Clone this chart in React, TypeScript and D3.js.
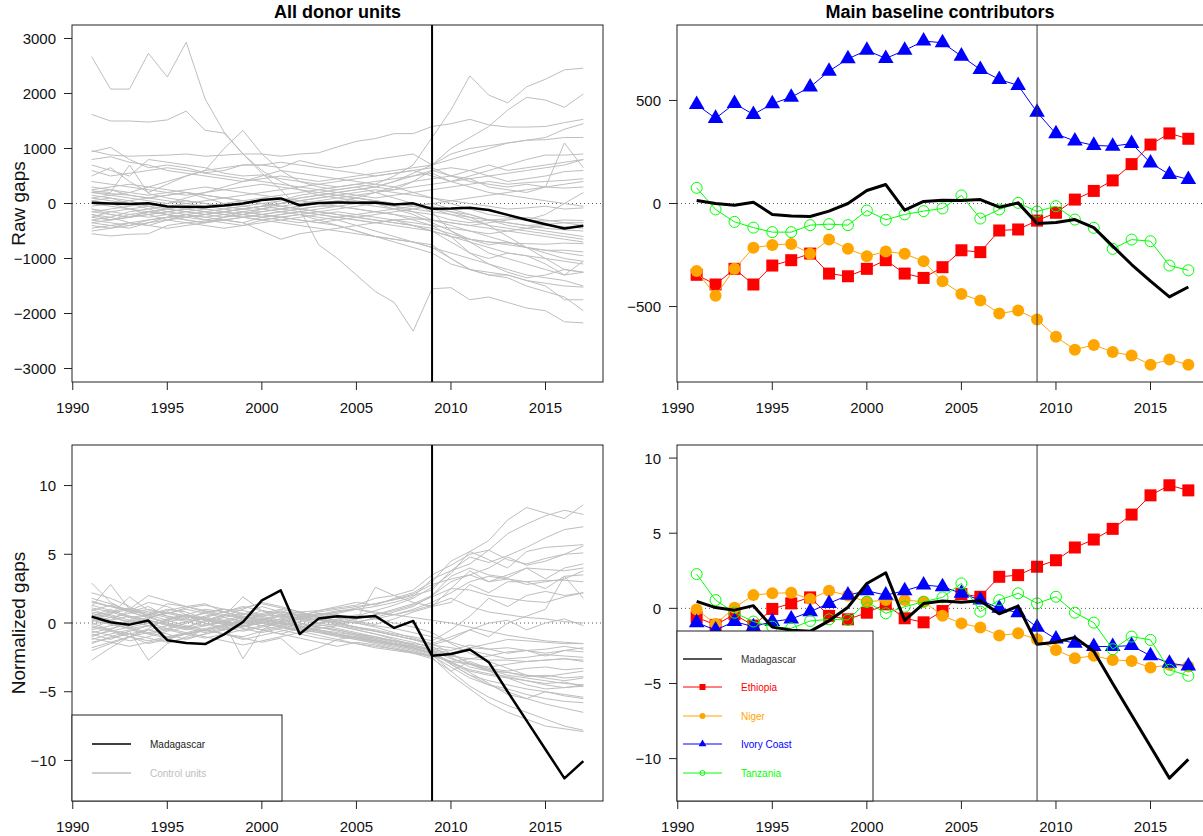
import React from "react"
import * as d3 from "d3"

// years of the study window, intervention in 2009
const years = [1991, 1992, 1993, 1994, 1995, 1996, 1997, 1998, 1999, 2000, 2001, 2002, 2003, 2004, 2005, 2006, 2007, 2008, 2009, 2010, 2011, 2012, 2013, 2014, 2015, 2016, 2017]
const treatYear = 2009

// raw gaps, main contributors
const madRaw = [15, 0, -8, 6, -53, -61, -63, -37, 0, 63, 92, -32, 10, 16, 15, 19, -18, 3, -97, -92, -78, -117, -207, -296, -377, -453, -405]
const ethRaw = [-346, -393, -317, -393, -301, -275, -243, -340, -353, -317, -275, -340, -361, -309, -227, -236, -131, -126, -83, -45, 19, 61, 112, 191, 286, 340, 314]
const nigRaw = [-328, -447, -317, -215, -201, -196, -244, -175, -220, -256, -233, -244, -280, -377, -439, -471, -534, -519, -563, -647, -709, -686, -720, -738, -782, -757, -782]
const ivcRaw = [480, 413, 485, 432, 484, 516, 565, 642, 702, 743, 704, 743, 788, 780, 715, 650, 602, 573, 443, 338, 303, 282, 278, 291, 197, 141, 117]
const tzaRaw = [76, -29, -89, -117, -139, -139, -105, -100, -105, -34, -79, -53, -37, -24, 39, -73, -29, 3, -39, -13, -78, -118, -220, -175, -183, -301, -324]

// normalized gaps, main contributors
const madNorm = [0.46, 0.05, -0.12, 0.18, -1.25, -1.45, -1.53, -0.83, 0.07, 1.65, 2.37, -0.8, 0.32, 0.49, 0.4, 0.51, -0.36, 0.15, -2.39, -2.25, -1.93, -2.85, -5.0, -7.1, -9.2, -11.3, -10.05]
const ethNorm = [-0.6, -1.1, -0.4, -1.15, -0.04, 0.33, 0.73, -0.5, -0.73, -0.29, 0.27, -0.66, -0.93, -0.18, 0.95, 0.77, 2.1, 2.21, 2.77, 3.2, 4.05, 4.58, 5.29, 6.24, 7.52, 8.19, 7.85]
const nigNorm = [-0.07, -1.04, 0.04, 0.88, 1.0, 1.04, 0.62, 1.17, 0.85, 0.44, 0.55, 0.55, 0.44, -0.49, -1.0, -1.28, -1.81, -1.66, -2.06, -2.77, -3.32, -3.16, -3.43, -3.5, -3.94, -3.76, -3.87]
const ivcNorm = [-0.95, -1.44, -0.88, -1.22, -0.88, -0.71, -0.22, 0.33, 0.88, 1.17, 0.88, 1.17, 1.55, 1.44, 1.0, 0.55, 0, -0.29, -1.26, -2.04, -2.32, -2.54, -2.54, -2.48, -3.16, -3.65, -3.83]
const tzaNorm = [2.28, 0.55, -0.29, -0.88, -1.22, -1.33, -0.84, -0.73, -0.77, 0.44, -0.33, 0.11, 0.44, 0.73, 1.66, -0.22, 0.55, 1.0, 0.33, 0.77, -0.29, -0.95, -2.72, -1.88, -2.1, -4.09, -4.49]

// raw gaps, every donor unit
const rawControls = [
  [2670, 2080, 2080, 2730, 2300, 2930, 1900, 1300, 900, 550, 250, -100, -750, -1000, -1300, -1600, -1800, -2320, -1550, -1530, -1750, -1700, -1800, -1900, -1950, -2150, -2170],
  [1620, 1500, 1500, 1480, 1520, 1680, 1330, 1280, 900, 600, 400, 250, 150, 100, 50, 0, -50, -150, -300, -350, -400, -350, -300, -250, -300, -350, -400],
  [960, 880, 860, 870, 880, 900, 860, 880, 900, 900, 860, 900, 920, 1030, 1130, 1180, 1270, 1270, 1400, 1450, 1530, 1430, 1390, 1390, 1400, 1470, 1530],
  [100, 150, 200, 300, 400, 500, 600, 1000, 1330, 900, 600, 400, 300, 250, 300, 350, 500, 700, 1200, 1700, 2320, 1970, 1830, 2120, 2260, 2430, 2460],
  [940, 1020, 800, 650, 700, 650, 560, 600, 700, 700, 650, 780, 700, 650, 700, 800, 850, 900, 700, 1000, 1200, 1400, 1700, 1930, 1880, 1750, 1990],
  [800, 850, 750, 700, 600, 550, 500, 450, 400, 450, 500, 450, 400, 450, 500, 550, 600, 650, 700, 800, 900, 1000, 1100, 1150, 1200, 1350, 1450],
  [700, 600, 500, 800, 750, 700, 650, 550, 500, 520, 450, 400, 350, 300, 350, 300, 250, 400, 600, 500, 450, 300, 250, 200, 300, 1100, 650],
  [500, 650, 400, 200, 350, 500, 600, 650, 700, 700, 750, 700, 650, 600, 550, 500, 550, 600, 500, 400, 500, 600, 700, 800, 880, 880, 900],
  [200, 150, 100, 50, 0, 100, 200, 300, 400, 500, 600, 550, 500, 450, 400, 350, 300, 200, 100, 0, -100, -200, -250, -300, -200, 0, 200],
  [230, 200, 700, 180, 100, 50, 0, -50, -100, -50, 50, 150, 200, 250, 300, 200, 100, 0, -150, -500, -700, -900, -1000, -1100, -1200, -1300, -1250],
  [-100, -200, -250, -150, -100, -150, -200, -250, -200, -100, 0, 100, 150, 200, 250, 300, 400, 550, 700, 900, 1000, 1050, 1100, 1150, 1160, 1200, 1200],
  [-300, -350, -400, -300, -250, -200, -150, -100, -50, 0, 50, 100, 150, 200, 250, 300, 400, 500, 600, 650, 600, 500, 400, 450, 500, 580, 600],
  [-200, -250, -150, -100, -200, -300, -350, -300, -250, -200, -150, -100, -50, 0, 100, 200, 300, 400, 450, 500, 400, 350, 300, 350, 300, 280, 300],
  [-550, -590, -560, -550, -400, -350, -320, -300, -350, -500, -650, -550, -500, -450, -400, -350, -300, -280, -300, -350, -400, -450, -500, -550, -600, -650, -700],
  [-400, -450, -350, -300, -250, -200, -300, -350, -400, -300, -250, -200, -250, -300, -400, -500, -600, -700, -800, -1000, -1200, -1300, -1300, -1400, -1450, -1500, -1520],
  [-350, -300, -250, -200, -150, -200, -250, -200, -150, -100, -150, -200, -300, -400, -500, -600, -700, -800, -900, -1100, -1200, -1300, -1350, -1500, -1600, -1700, -1950],
  [200, 180, 150, 100, 50, 0, -50, -100, -150, -200, -250, -300, -350, -400, -500, -600, -650, -700, -750, -1000, -1200, -1250, -1300, -1400, -1500, -1750, -1750],
  [-250, -150, -100, -200, -300, -250, -200, -150, -100, -50, -100, -150, -200, -250, -300, -350, -400, -450, -500, -600, -650, -700, -750, -800, -850, -850, -880],
  [100, 50, 0, -50, -100, -150, -200, -150, -100, -50, 0, 50, 100, 150, 200, 250, 200, 150, 100, 50, 0, -50, -100, -80, -50, -100, -80],
  [-150, -200, -250, -200, -150, -100, -150, -200, -250, -200, -150, -100, -50, -50, 0, 0, -50, -100, -150, -200, -250, -300, -350, -400, -380, -350, -350],
  [50, 0, -100, -50, 0, 50, 0, -50, -100, -150, -100, -50, 0, 50, 100, 50, 0, -50, -100, -150, -200, -300, -400, -450, -500, -550, -600],
  [-300, -250, -350, -400, -300, -200, -250, -300, -350, -250, -200, -150, -200, -250, -300, -350, -300, -400, -500, -700, -900, -1000, -900, -950, -1100, -1300, -1050],
  [300, 250, 200, 150, 200, 250, 300, 250, 200, 150, 100, 50, 0, -50, -100, -150, -200, -300, -400, -600, -900, -1100, -1250, -1350, -1300, -1200, -1250],
  [150, 100, 50, 100, 150, 200, 100, 0, -50, -100, -50, 0, 50, 100, 150, 200, 250, 300, 350, 400, 450, 500, 550, 600, 650, 700, 800],
  [-200, -300, -250, -150, -100, -50, -100, -150, -200, -250, -200, -150, -100, -50, -100, -150, -200, -250, -300, -400, -500, -600, -700, -800, -900, -1000, -1050],
  [0, -50, -100, -150, -200, -250, -200, -150, -100, -50, 0, 50, 100, 150, 100, 50, 0, -50, 0, 50, 100, 150, 200, 250, 300, 350, 400],
  [-450, -400, -350, -400, -450, -400, -350, -300, -250, -300, -350, -400, -450, -500, -550, -600, -650, -700, -800, -900, -1000, -1100, -1200, -1300, -1350, -1400, -1500],
  [600, 500, 550, 600, 650, 600, 550, 500, 450, 400, 350, 300, 350, 400, 450, 500, 550, 600, 650, 500, 600, 700, 600, 650, 700, 750, 800],
  [-100, -150, -200, -250, -200, -150, -100, -150, -200, -250, -300, -350, -300, -250, -200, -150, -100, -50, 0, -100, -200, -300, -350, -400, -450, -480, -500],
  [250, 300, 350, 300, 250, 200, 150, 100, 50, 0, -50, -100, -150, -200, -250, -300, -350, -400, -500, -600, -700, -800, -900, -950, -1000, -1050, -1100],
  [-500, -450, -400, -350, -300, -350, -400, -450, -400, -350, -300, -250, -200, -150, -200, -250, -300, -350, -400, -450, -500, -550, -500, -450, -400, -420, -450],
  [200, 250, 150, 100, 150, 200, 150, 100, 50, 100, 150, 200, 250, 300, 350, 400, 450, 500, 550, 400, 300, 200, 150, 100, 50, 0, -50],
  [-150, -100, -50, 0, -50, -100, -150, -200, -250, -300, -250, -200, -150, -100, -50, 0, -100, -200, -350, -500, -650, -750, -700, -800, -850, -900, -950],
  [-250, -300, -200, -150, -200, -250, -300, -250, -200, -150, -100, -50, 0, 50, 0, -50, -100, -150, -200, -300, -350, -300, -280, -300, -320, -300, -310],
  [50, 100, 0, -100, -50, 0, 50, 100, 150, 200, 250, 300, 250, 200, 150, 100, 150, 200, 250, 300, 350, 400, 350, 380, 400, 420, 450],
  [-350, -400, -450, -350, -250, -300, -350, -250, -150, -200, -250, -300, -350, -300, -250, -200, -150, -100, -50, -150, -250, -400, -600, -800, -1000, -1200, -1250],
  [400, 350, 300, 250, 200, 150, 200, 250, 300, 350, 300, 250, 200, 150, 100, 50, 0, -50, -100, -200, -300, -400, -450, -500, -550, -600, -650],
  [-50, 0, 50, -50, -150, -100, -50, 0, 50, 0, -50, -100, -150, -200, -250, -300, -350, -400, -450, -550, -650, -700, -720, -730, -740, -720, -730]
]

// normalized gaps, every donor unit
const normControls = [
  [2.9, 1.5, 0.8, 1.2, 0.5, 0.3, 0.8, 1.0, 0.6, 1.2, 0.8, 0.5, 0.9, 1.2, 1.5, 1.3, 1.8, 2.2, 3.0, 4.5, 5.2, 6.0, 7.5, 8.4, 8.0, 7.6, 8.6],
  [1.2, 2.8, 1.0, 0.5, 1.4, 1.2, 0.8, 0.5, 1.0, 1.5, 1.2, 0.8, 0.9, 1.1, 1.3, 1.8, 2.0, 2.4, 3.5, 4.2, 5.0, 5.3, 6.5, 7.2, 7.8, 8.2, 7.9],
  [0.8, 0.6, 1.9, 0.9, 0.7, 1.1, 1.3, 1.0, 0.9, 0.6, 0.5, 0.4, 0.6, 0.8, 1.0, 1.2, 1.5, 1.9, 3.2, 3.8, 4.8, 4.4, 4.9, 5.5, 6.2, 6.8, 7.0],
  [1.5, 1.2, 1.0, 2.0, 1.6, 1.2, 1.4, 0.8, 0.5, 0.3, 0.6, 0.8, 0.4, 0.2, 0.5, 0.9, 1.3, 1.8, 2.6, 3.6, 5.2, 4.6, 4.0, 5.2, 5.5, 5.6, 5.7],
  [0.5, 1.0, 0.4, 0.6, 1.0, 0.8, 0.3, 0.0, 0.4, 0.9, 0.7, 0.3, 0.2, 0.1, 0.0, 0.4, 0.8, 1.2, 2.0, 3.0, 3.5, 4.0, 4.8, 4.2, 4.5, 5.0, 5.6],
  [-0.4, 0.2, 0.9, 1.5, 1.2, 0.6, 0.2, 0.5, 1.9, 0.9, 0.4, 0.3, 0.7, 0.6, 0.2, 2.6, 2.0, 1.5, 1.2, 2.5, 3.8, 3.0, 3.5, 4.0, 3.2, 4.0, 4.3],
  [2.2, 1.8, 1.2, 0.5, 0.0, -0.3, 0.2, 0.6, 0.4, 0.1, -0.2, 0.3, 0.6, 0.9, 1.0, 0.7, 0.6, 1.0, 1.5, 2.2, 3.0, 3.4, 3.2, 2.8, 3.0, 3.2, 3.8],
  [0.0, -0.5, -1.0, -0.4, 0.3, 0.6, 1.0, 0.8, 0.4, 0.2, 0.0, 0.3, 0.5, 0.4, 0.1, -0.1, 0.3, 0.8, 1.2, 1.5, 2.8, 2.2, 3.0, 3.0, 2.5, 3.4, 3.5],
  [1.0, 0.5, 0.0, 0.3, 0.8, 0.5, 0.0, -0.5, -0.3, 0.2, 0.5, 0.8, 0.4, 0.0, -0.3, -0.5, -0.8, -1.0, -1.3, -0.5, 0.5, 1.8, 1.2, 2.0, 2.3, 2.0, 2.2],
  [-1.0, -0.5, 0.2, 0.6, 0.2, -0.2, -0.5, -0.2, 0.3, 0.6, 0.9, 0.5, 0.2, -0.1, -0.4, -0.6, -0.9, -1.2, -1.5, -1.0, -0.5, -1.0, 0.0, 0.5, 1.0, 3.4, 1.8],
  [0.3, 0.0, -0.4, -0.8, -0.5, 0.0, 0.4, 0.2, -0.2, -0.5, -0.2, 0.1, 0.3, 0.0, -0.3, -0.6, -0.9, -1.2, -1.6, -1.2, -0.5, 0.0, 0.2, -0.5, 0.0, 0.3, -0.2],
  [-1.5, -1.0, -0.6, -0.2, 0.2, 0.5, 0.2, -0.1, -0.4, -0.7, -0.4, -0.1, -0.3, -0.5, -0.8, -1.0, -1.3, -1.6, -1.9, -2.2, -1.8, -1.5, -1.2, -1.3, -1.4, -1.5, -1.5],
  [-2.7, -1.8, -1.0, -0.5, -0.8, -1.2, -0.8, -0.5, -0.2, 0.0, -0.3, -0.6, -0.4, -0.2, -0.5, -0.8, -1.1, -1.4, -1.8, -2.0, -1.6, -1.9, -2.2, -2.0, -2.4, -2.0, -2.1],
  [-2.0, -1.5, -1.0, -1.5, -1.2, -0.8, -0.5, -0.2, 0.1, 0.3, 0.0, -0.3, -0.6, -0.9, -1.2, -1.5, -1.8, -2.1, -2.4, -2.8, -3.0, -3.2, -3.0, -2.8, -2.7, -2.6, -2.7],
  [0.6, 0.2, -0.3, -0.7, -1.0, -0.8, -0.5, -0.8, -1.2, -0.9, -0.6, -0.3, 0.0, 0.2, 0.0, -0.3, -0.7, -1.1, -1.5, -2.2, -3.0, -3.5, -3.6, -3.8, -3.9, -3.7, -3.5],
  [-0.8, -1.2, -0.6, -2.7, -1.5, -1.0, -0.5, -0.8, -1.0, -0.6, -0.3, -0.5, -0.7, -0.9, -1.1, -1.3, -1.5, -1.8, -2.2, -2.8, -3.5, -3.8, -4.0, -4.2, -4.5, -4.7, -4.6],
  [1.3, 0.9, 0.5, 0.2, -0.2, -0.5, -0.2, 0.1, -0.2, -0.5, -0.8, -0.4, 0.0, -0.2, -0.5, -0.8, -1.2, -1.6, -2.0, -3.0, -3.8, -4.2, -4.5, -4.8, -5.0, -5.3, -5.5],
  [-0.3, -0.6, -1.0, -1.3, -1.0, -0.7, -0.4, -0.1, 0.2, 0.0, -0.3, -0.6, -0.9, -1.2, -1.5, -1.8, -2.0, -2.2, -2.4, -3.2, -4.0, -4.5, -4.8, -5.2, -5.5, -5.7, -5.8],
  [0.2, -0.1, -0.4, -0.2, 0.1, 0.3, 0.0, -0.3, -0.6, -0.3, 0.0, -0.2, -0.5, -0.8, -1.0, -1.3, -1.6, -1.9, -2.3, -3.5, -4.6, -5.4, -6.0, -6.5, -7.0, -7.5, -7.8],
  [-1.2, -0.8, -0.5, -0.8, -1.1, -0.8, -0.5, -0.2, 0.1, -0.2, -0.5, -0.8, -1.1, -1.3, -1.5, -1.7, -1.9, -2.1, -2.5, -3.8, -4.8, -5.8, -6.5, -7.0, -7.5, -7.7, -7.9],
  [0.9, 1.3, 0.8, 0.4, 0.0, -0.3, -0.6, -0.3, 0.0, 0.3, 0.0, -0.3, -0.6, -0.9, -1.1, -1.3, -1.5, -1.7, -2.0, -2.6, -3.0, -3.4, -3.8, -4.0, -4.2, -4.4, -4.5],
  [-0.6, -0.9, -1.3, -1.0, -0.6, -0.3, 0.1, 0.4, 0.7, 0.5, 0.2, 0.5, 0.3, 0.0, -0.3, -0.6, -0.9, -1.2, -1.6, -1.8, -2.0, -2.3, -2.6, -2.5, -2.3, -2.4, -2.5],
  [1.8, 1.4, 0.9, 0.6, 0.9, 1.2, 0.9, 0.6, 0.3, 0.0, 0.3, 0.6, 0.8, 1.0, 1.2, 1.4, 1.7, 2.1, 2.8, 3.2, 3.5, 3.0, 3.2, 3.0, 3.1, 3.1, 3.0],
  [-1.8, -1.4, -1.0, -0.7, -0.4, -0.7, -1.0, -1.3, -1.6, -1.3, -1.0, -0.7, -0.5, -0.7, -0.9, -1.1, -1.3, -1.5, -1.7, -2.5, -3.2, -3.5, -4.0, -4.5, -4.8, -4.7, -4.5],
  [0.4, 0.7, 1.0, 0.7, 0.4, 0.1, -0.2, 0.1, 0.4, 0.7, 1.0, 0.7, 0.4, 0.7, 1.0, 0.8, 0.6, 0.4, 0.2, 0.0, -0.3, -0.6, -0.9, -1.1, -1.3, -1.4, -1.5],
  [-0.2, -0.5, -0.8, -0.5, -0.2, 0.1, 0.4, 0.1, -0.2, -0.5, -0.8, -1.1, -1.4, -1.7, -1.4, -1.6, -1.9, -2.2, -2.6, -3.5, -2.8, -3.3, -3.5, -3.3, -3.2, -3.4, -3.3],
  [1.1, 0.8, 0.4, 0.0, -0.4, 0.0, 0.4, 0.8, 1.2, 0.9, 0.6, 0.3, 0.0, 0.3, 0.6, 0.3, 0.0, -0.3, -0.7, -1.5, -2.2, -2.8, -3.3, -3.8, -4.0, -4.2, -4.0],
  [-0.9, -0.6, -0.3, 0.0, 0.3, 0.6, 0.3, 0.0, -0.3, 0.0, 0.3, 0.0, -0.3, -0.5, -0.8, -1.1, -1.4, -1.7, -2.1, -2.9, -3.6, -4.4, -5.2, -5.5, -5.0, -5.2, -5.4],
  [0.1, 0.4, 0.7, 1.0, 0.7, 0.4, 0.7, 1.0, 0.7, 0.4, 0.1, 0.4, 0.7, 0.5, 0.3, 0.6, 0.9, 1.3, 1.9, 2.5, 2.4, 2.0, 1.8, 1.6, 1.5, 1.9, 2.2],
  [-0.5, -0.2, 0.1, -0.2, -0.5, -0.8, -1.1, -0.8, -0.5, -0.2, 0.1, -0.2, -0.5, -0.8, -1.1, -1.4, -1.7, -2.0, -2.4, -2.8, -2.6, -2.4, -2.1, -2.0, -2.2, -2.0, -1.8],
  [-1.4, -1.1, -0.8, -1.1, -1.4, -1.1, -0.8, -0.5, -0.2, 0.1, -0.2, -0.5, -0.3, -0.6, -0.9, -1.2, -1.5, -1.8, -2.2, -2.4, -2.6, -2.7, -2.7, -2.8, -2.7, -2.6, -2.8],
  [0.7, 0.4, 0.1, 0.4, 0.7, 1.0, 0.7, 0.4, 0.1, -0.2, 0.1, 0.4, 0.2, 0.0, 0.3, 0.6, 1.0, 1.4, 2.0, 3.4, 4.0, 3.5, 3.3, 4.0, 3.9, 3.8, 4.0],
  [-0.1, 0.2, 0.5, 0.2, -0.1, -0.4, -0.7, -0.4, -0.1, 0.2, 0.5, 0.2, -0.1, -0.4, -0.7, -1.0, -1.3, -1.6, -2.0, -2.3, -2.9, -3.4, -3.6, -3.9, -3.8, -4.0, -3.9],
  [1.6, 1.2, 0.8, 0.4, 0.8, 0.5, 0.2, -0.1, 0.2, 0.5, 0.8, 0.6, 0.4, 0.2, 0.0, -0.2, -0.4, -0.7, -1.0, -1.4, -1.8, -1.9, -1.8, -2.0, -1.9, -1.7, -1.9],
  [-0.7, -0.4, -0.1, 0.2, -0.1, -0.4, -0.1, 0.2, 0.5, 0.2, -0.1, -0.4, -0.7, -1.0, -1.2, -1.4, -1.6, -1.9, -2.2, -3.0, -3.8, -4.5, -5.0, -5.5, -5.9, -6.2, -6.5],
  [0.3, 0.6, 0.2, -0.2, 0.2, 0.6, 0.3, 0.0, -2.6, -0.5, 0.2, 0.0, -0.2, -0.1, 0.1, 0.3, 0.6, 0.9, 1.3, 1.8, 1.2, 0.8, 0.6, 0.4, 0.3, 0.1, 0.0],
  [-1.1, -1.4, -1.7, -1.4, -1.1, -0.8, -0.5, -0.8, -1.1, -1.4, -1.1, -2.3, -1.8, -1.2, -1.0, -1.2, -1.5, -1.8, -2.2, -2.9, -3.4, -3.7, -3.9, -4.2, -4.4, -4.3, -4.6],
  [0.5, 0.8, 1.1, 0.8, 0.5, 0.2, 0.5, 0.8, 1.1, 1.4, 1.1, 0.8, 0.5, 0.8, 1.1, 1.4, 1.7, 2.0, 2.4, 3.8, 4.3, 5.3, 4.6, 4.3, 4.7, 5.0, 5.1]
]

const xTicks = [1990, 1995, 2000, 2005, 2010, 2015]
const rawTicks = [-3000, -2000, -1000, 0, 1000, 2000, 3000]
const rawMainTicks = [-500, 0, 500]
const normTicks = [-10, -5, 0, 5, 10]

const countries = ["Ethiopia", "Niger", "Ivory Coast", "Tanzania"]

const FONT = "'Liberation Sans', Arial, Helvetica, sans-serif"
const GREY = "#bebebe"
const COLORS: Record<string, string> = { Ethiopia: "#ff0000", Niger: "#ffa500", "Ivory Coast": "#0000ff", Tanzania: "#00ff00" }

const fmt = (v: number) => (v < 0 ? "\u2212" + Math.abs(v) : String(v))

type Box = { left: number; right: number; top: number; bottom: number }

function Marker({ kind, x, y, size }: { kind: string; x: number; y: number; size: number }) {
  const c = COLORS[kind]
  if (kind === "Ethiopia") return <rect x={x - size / 2} y={y - size / 2} width={size} height={size} fill={c} />
  if (kind === "Niger") return <circle cx={x} cy={y} r={size / 2} fill={c} />
  if (kind === "Ivory Coast") {
    const side = size * 1.3
    const area = (Math.sqrt(3) / 4) * side * side
    return <path transform={`translate(${x},${y})`} d={d3.symbol(d3.symbolTriangle, area)() || ""} fill={c} />
  }
  return <circle cx={x} cy={y} r={size / 2 - 0.5} fill="none" stroke={c} strokeWidth={1} />
}

function Panel({ id, box, yDomain, yTicks, title, ylab, thickV, children }: {
  id: string; box: Box; yDomain: [number, number]; yTicks: number[]; title?: string; ylab?: string; thickV: boolean
  children: (x: d3.ScaleLinear<number, number>, y: d3.ScaleLinear<number, number>) => React.ReactNode
}) {
  const x = d3.scaleLinear().domain([1989.96, 2018.04]).range([box.left, box.right])
  const y = d3.scaleLinear().domain(yDomain).range([box.bottom, box.top])
  const midY = (box.top + box.bottom) / 2
  return (
    <g>
      <defs>
        <clipPath id={id}>
          <rect x={box.left} y={box.top} width={box.right - box.left} height={box.bottom - box.top} />
        </clipPath>
      </defs>
      <g clipPath={`url(#${id})`}>
        <line x1={box.left} x2={box.right} y1={y(0)} y2={y(0)} stroke="#555" strokeDasharray="1,3" strokeWidth={1} />
        {children(x, y)}
        <line x1={x(treatYear)} x2={x(treatYear)} y1={box.top} y2={box.bottom}
          stroke={thickV ? "#000" : "#333"} strokeWidth={thickV ? 2 : 1} />
      </g>
      <rect x={box.left} y={box.top} width={box.right - box.left} height={box.bottom - box.top}
        fill="none" stroke="#222" strokeWidth={1} />
      {xTicks.map(t => (
        <g key={t}>
          <line x1={x(t)} x2={x(t)} y1={box.bottom} y2={box.bottom + 8} stroke="#222" />
          <text x={x(t)} y={box.bottom + 25} textAnchor="middle" dominantBaseline="central" fontSize={15} fill="#111">{t}</text>
        </g>
      ))}
      {yTicks.map(t => (
        <g key={t}>
          <line x1={box.left - 8} x2={box.left} y1={y(t)} y2={y(t)} stroke="#222" />
          <text x={box.left - 16} y={y(t)} textAnchor="end" dominantBaseline="central" fontSize={15} fill="#111">{fmt(t)}</text>
        </g>
      ))}
      {title && (
        <text x={(box.left + Math.min(box.right, 1193)) / 2 + (box.right > 1203 ? 5 : 0)} y={12} textAnchor="middle"
          dominantBaseline="central" fontSize={18} fontWeight="bold" fill="#000">{title}</text>
      )}
      {ylab && (
        <text transform={`translate(18,${midY}) rotate(-90)`} textAnchor="middle" dominantBaseline="central"
          fontSize={19} fill="#111">{ylab}</text>
      )}
    </g>
  )
}

function GapLines({ x, y, controls, mad, madWidth }: {
  x: d3.ScaleLinear<number, number>; y: d3.ScaleLinear<number, number>; controls: number[][]; mad: number[]; madWidth: number
}) {
  const line = d3.line<number>().x((_, i) => x(years[i])).y(d => y(d))
  return (
    <g fill="none">
      {controls.map((c, i) => <path key={i} d={line(c) || ""} stroke={GREY} strokeWidth={1} />)}
      <path d={line(mad) || ""} stroke="#000" strokeWidth={madWidth} strokeLinejoin="round" />
    </g>
  )
}

function Contributors({ x, y, series, mad }: {
  x: d3.ScaleLinear<number, number>; y: d3.ScaleLinear<number, number>; series: number[][]; mad: number[]
}) {
  const line = d3.line<number>().x((_, i) => x(years[i])).y(d => y(d))
  return (
    <g>
      {countries.map((name, k) => (
        <g key={name}>
          <path d={line(series[k]) || ""} fill="none" stroke={COLORS[name]} strokeWidth={1} />
          {series[k].map((v, i) => <Marker key={i} kind={name} x={x(years[i])} y={y(v)} size={12} />)}
        </g>
      ))}
      <path d={line(mad) || ""} fill="none" stroke="#000" strokeWidth={3} strokeLinejoin="round" />
    </g>
  )
}

export default function App() {
  React.useEffect(() => { document.body.style.margin = "0" }, [])
  const topL: Box = { left: 72, right: 603, top: 25, bottom: 382 }
  const topR: Box = { left: 677, right: 1208, top: 25, bottom: 382 }
  const botL: Box = { left: 72, right: 603, top: 445, bottom: 801 }
  const botR: Box = { left: 677, right: 1208, top: 445, bottom: 801 }
  const legendRows = [659, 687, 716, 744, 773]
  return (
    <svg width={1203} height={836} style={{ display: "block", background: "#fff", fontFamily: FONT }}>
      <rect width={1203} height={836} fill="#fff" />
      <Panel id="c1" box={topL} yDomain={[-3245, 3245]} yTicks={rawTicks} title="All donor units" ylab="Raw gaps" thickV>
        {(x, y) => <GapLines x={x} y={y} controls={rawControls} mad={madRaw} madWidth={2.5} />}
      </Panel>
      <Panel id="c2" box={topR} yDomain={[-866, 866]} yTicks={rawMainTicks} title="Main baseline contributors" thickV={false}>
        {(x, y) => <Contributors x={x} y={y} series={[ethRaw, nigRaw, ivcRaw, tzaRaw]} mad={madRaw} />}
      </Panel>
      <Panel id="c3" box={botL} yDomain={[-12.95, 12.95]} yTicks={normTicks} ylab="Normalized gaps" thickV>
        {(x, y) => <GapLines x={x} y={y} controls={normControls} mad={madNorm} madWidth={2.5} />}
      </Panel>
      <Panel id="c4" box={botR} yDomain={[-12.82, 10.87]} yTicks={normTicks} thickV={false}>
        {(x, y) => <Contributors x={x} y={y} series={[ethNorm, nigNorm, ivcNorm, tzaNorm]} mad={madNorm} />}
      </Panel>

      {/* legend, all donor units */}
      <g>
        <rect x={72} y={715} width={210} height={86} fill="#fff" stroke="#222" />
        <line x1={92} x2={131} y1={744} y2={744} stroke="#000" strokeWidth={1.5} />
        <text x={150} y={744} dominantBaseline="central" fontSize={10} fill="#222">Madagascar</text>
        <line x1={92} x2={131} y1={773} y2={773} stroke={GREY} strokeWidth={1.5} />
        <text x={150} y={773} dominantBaseline="central" fontSize={10} fill={GREY}>Control units</text>
      </g>

      {/* legend, main contributors */}
      <g>
        <rect x={677} y={631} width={196} height={170} fill="#fff" stroke="#222" />
        <line x1={683} x2={722} y1={legendRows[0]} y2={legendRows[0]} stroke="#555" strokeWidth={2} />
        <text x={741} y={legendRows[0]} dominantBaseline="central" fontSize={10} fill="#333">Madagascar</text>
        {countries.map((name, k) => (
          <g key={name}>
            <line x1={683} x2={722} y1={legendRows[k + 1]} y2={legendRows[k + 1]} stroke={COLORS[name]} strokeWidth={1} />
            <Marker kind={name} x={702.5} y={legendRows[k + 1]} size={6} />
            <text x={741} y={legendRows[k + 1]} dominantBaseline="central" fontSize={10} fill={COLORS[name]}>{name}</text>
          </g>
        ))}
      </g>
    </svg>
  )
}
